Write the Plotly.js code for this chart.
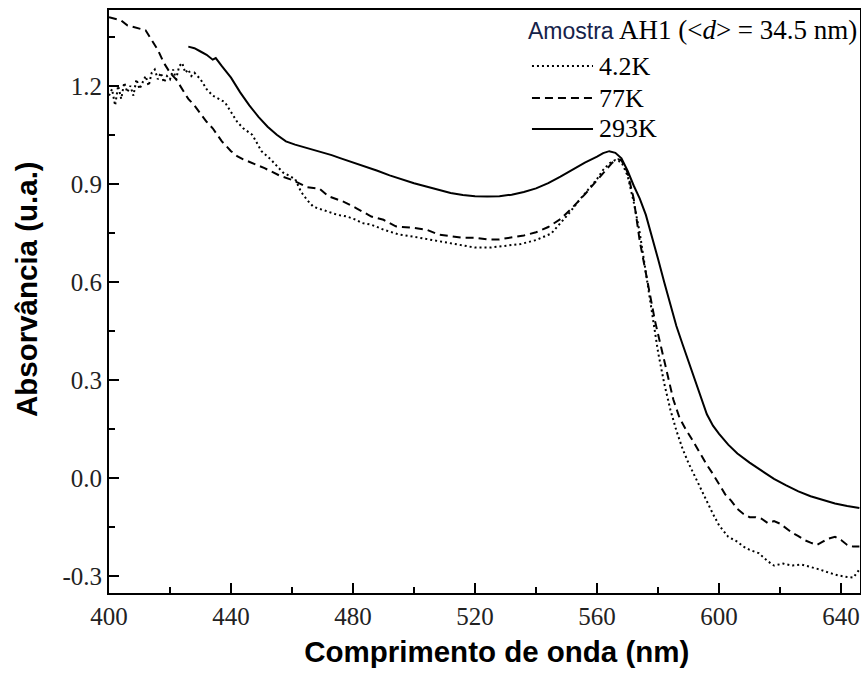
<!DOCTYPE html>
<html>
<head>
<meta charset="utf-8">
<script src="https://cdn.plot.ly/plotly-3.0.1.min.js"></script>
<style>html,body{margin:0;padding:0;background:#fff;}#chart{width:861px;height:677px;}</style>
</head>
<body>
<div id="chart"></div>
<script>
// ---- Data ----
const seriesNames = ['4.2K', '77K', '293K'];

const x42 = [400,401,402,403,404,405,406,407,408,409,410,411,412,413,414,415,416,417,418,419,420,421,422,423,424,425,426,427,428,
  430,432,434,436,438,440,442,444,447,450,453,457,461,463,465,467,470,472,475,478,481,483,486,490,495,500,505,510,
  515,520,525,530,535,540,545,548,551,554,557,560,562,564,566,568,570,572,574,576,578,580,582,584,586,588,590,592,594,596,
  598,600,603,606,608,610,613,616,618,621,624,627,630,633,636,639,642,644,646];
const y42 = [1.17,1.19,1.14,1.2,1.16,1.21,1.18,1.2,1.17,1.22,1.19,1.21,1.23,1.2,1.24,1.25,1.22,1.24,1.21,1.23,1.22,1.25,1.22,1.26,1.27,1.24,1.25,1.23,1.24,
  1.22,1.19,1.17,1.16,1.15,1.12,1.09,1.07,1.05,1.0,0.975,0.935,0.915,0.875,0.85,0.83,0.82,0.815,0.805,0.8,0.79,0.78,0.775,0.76,0.745,0.738,0.73,0.72,
  0.712,0.705,0.705,0.71,0.716,0.728,0.748,0.78,0.812,0.848,0.882,0.915,0.943,0.962,0.973,0.967,0.925,0.845,0.75,0.63,0.5,0.385,0.29,0.21,0.145,0.09,0.045,0.005,-0.03,-0.07,
  -0.11,-0.145,-0.18,-0.195,-0.21,-0.22,-0.23,-0.255,-0.268,-0.262,-0.268,-0.265,-0.272,-0.28,-0.29,-0.298,-0.303,-0.305,-0.28];

const x77 = [400,402,404,406,408,410,412,414,416,418,420,422,424,426,428,430,432,434,437,440,
  442,444,447,451,456,460,465,469,472,477,481,486,490,494,500,504,508,512,516,520,
  524,528,532,536,540,544,548,552,556,560,563,565,567,568,570,572,574,575,577,579,
  581,583,585,587,589,591,594,596,598,600,602,604,606,608,610,612,614,616,618,620,
  622,624,626,628,630,632,634,636,638,640,642,644,646];
const y77 = [1.41,1.405,1.4,1.385,1.38,1.375,1.37,1.34,1.31,1.27,1.24,1.22,1.19,1.16,1.14,1.115,1.09,1.07,1.03,1.0,
  0.985,0.975,0.963,0.948,0.925,0.912,0.89,0.885,0.862,0.845,0.826,0.8,0.79,0.77,0.765,0.76,0.745,0.74,0.735,0.735,
  0.73,0.73,0.735,0.742,0.752,0.768,0.792,0.828,0.868,0.912,0.945,0.965,0.975,0.972,0.935,0.855,0.725,0.676,0.59,0.48,
  0.4,0.32,0.24,0.185,0.15,0.12,0.07,0.04,0.012,-0.02,-0.05,-0.07,-0.095,-0.11,-0.12,-0.12,-0.125,-0.138,-0.132,-0.14,
  -0.155,-0.168,-0.178,-0.19,-0.198,-0.205,-0.195,-0.185,-0.18,-0.19,-0.205,-0.21,-0.21];

const x293 = [426,428,430,432,434,435,437,440,443,446,449,452,455,458,461,464,467,470,473,476,
  480,484,488,492,496,500,504,508,512,516,520,524,528,532,536,540,544,548,552,556,
  560,562,564,566,568,570,572,574,576,578,580,582,584,586,588,590,592,594,596,598,
  600,603,606,610,614,618,622,626,630,634,638,642,646];
const y293 = [1.32,1.315,1.305,1.295,1.28,1.285,1.26,1.225,1.18,1.14,1.105,1.075,1.05,1.03,1.02,1.012,1.005,0.995,0.988,0.978,
  0.966,0.953,0.94,0.926,0.913,0.902,0.892,0.882,0.872,0.866,0.862,0.861,0.862,0.867,0.875,0.886,0.902,0.922,0.944,0.965,
  0.983,0.994,1.0,0.995,0.978,0.94,0.895,0.855,0.805,0.74,0.67,0.6,0.53,0.465,0.41,0.355,0.3,0.245,0.195,0.16,
  0.135,0.102,0.075,0.047,0.022,-0.003,-0.023,-0.041,-0.056,-0.068,-0.078,-0.086,-0.092];

const xTickVals = [400,440,480,520,560,600,640];
const xTickText = ['400','440','480','520','560','600','640'];
const yTickVals = [-0.3,0.0,0.3,0.6,0.9,1.2];
const yTickText = ['-0.3','0.0','0.3','0.6','0.9','1.2'];

const xTitle = '&nbsp;&nbsp;&nbsp;Comprimento de onda (nm)';
const yTitle = '&nbsp;&nbsp;&nbsp;Absorvância (u.a.)';
const legendTitle = "<span style='font-family:Liberation Sans,Arial,sans-serif;font-size:23px;color:#15224a'>Amostra</span> AH1 (&lt;<i>d</i>&gt; = 34.5 nm)";

// ---- Styles ----
const dashStyles = ['2px,3px', '8px,5px', 'solid'];
const serif = 'Liberation Serif, Times New Roman, serif';
const sans = 'Liberation Sans, Arial, sans-serif';

const xs = [x42, x77, x293];
const ys = [y42, y77, y293];

const traces = seriesNames.map((n, i) => ({
  x: xs[i], y: ys[i], name: n, type: 'scatter', mode: 'lines',
  line: {color: '#000', width: 2, dash: dashStyles[i]},
  showlegend: false, hoverinfo: 'skip'
}));

// custom legend (sample lines + labels) in paper coords
const legX0 = 0.5632, legX1 = 0.6445, legTextX = 0.6498;
const legRowsY = [0.9039, 0.849, 0.7959];
const shapes = seriesNames.map((n, i) => ({
  type: 'line', xref: 'paper', yref: 'paper',
  x0: legX0, x1: legX1, y0: legRowsY[i], y1: legRowsY[i],
  line: {color: '#000', width: 2, dash: dashStyles[i]}
}));
const annotations = seriesNames.map((n, i) => ({
  xref: 'paper', yref: 'paper', x: legTextX, y: legRowsY[i],
  xanchor: 'left', yanchor: 'middle', showarrow: false, text: n,
  font: {family: serif, size: 26, color: '#000'}
}));
annotations.push({
  xref: 'paper', yref: 'paper', x: 0.555, y: 0.9657, xanchor: 'left', yanchor: 'middle',
  showarrow: false, text: legendTitle, font: {family: serif, size: 27, color: '#000'}
});

const layout = {
  width: 861, height: 677,
  margin: {l: 109, r: 1, t: 10, b: 84},
  paper_bgcolor: '#fff', plot_bgcolor: '#fff',
  showlegend: false,
  xaxis: {
    range: [400, 646.2], tickmode: 'array', tickvals: xTickVals, ticktext: xTickText,
    ticks: 'inside', ticklen: 10, tickwidth: 2, tickcolor: '#000',
    minor: {dtick: 20, tick0: 400, ticks: 'inside', ticklen: 6, tickwidth: 2, tickcolor: '#000', showgrid: false},
    showline: true, linewidth: 2, linecolor: '#000', mirror: true,
    showgrid: false, zeroline: false,
    tickfont: {family: serif, size: 25, color: '#222'},
    title: {text: xTitle, font: {family: sans, size: 29.5, color: '#000', weight: 'bold'}, standoff: 12}
  },
  yaxis: {
    range: [-0.352, 1.432], tickmode: 'array', tickvals: yTickVals, ticktext: yTickText,
    ticks: 'inside', ticklen: 10, tickwidth: 2, tickcolor: '#000',
    minor: {dtick: 0.15, tick0: -0.3, ticks: 'inside', ticklen: 6, tickwidth: 2, tickcolor: '#000', showgrid: false},
    showline: true, linewidth: 2, linecolor: '#000', mirror: true,
    showgrid: false, zeroline: false,
    tickfont: {family: serif, size: 25, color: '#222'},
    title: {text: yTitle, font: {family: sans, size: 29.5, color: '#000', weight: 'bold'}, standoff: 16}
  },
  shapes: shapes,
  annotations: annotations
};

Plotly.newPlot('chart', traces, layout, {displayModeBar: false, staticPlot: true});
</script>
</body>
</html>
